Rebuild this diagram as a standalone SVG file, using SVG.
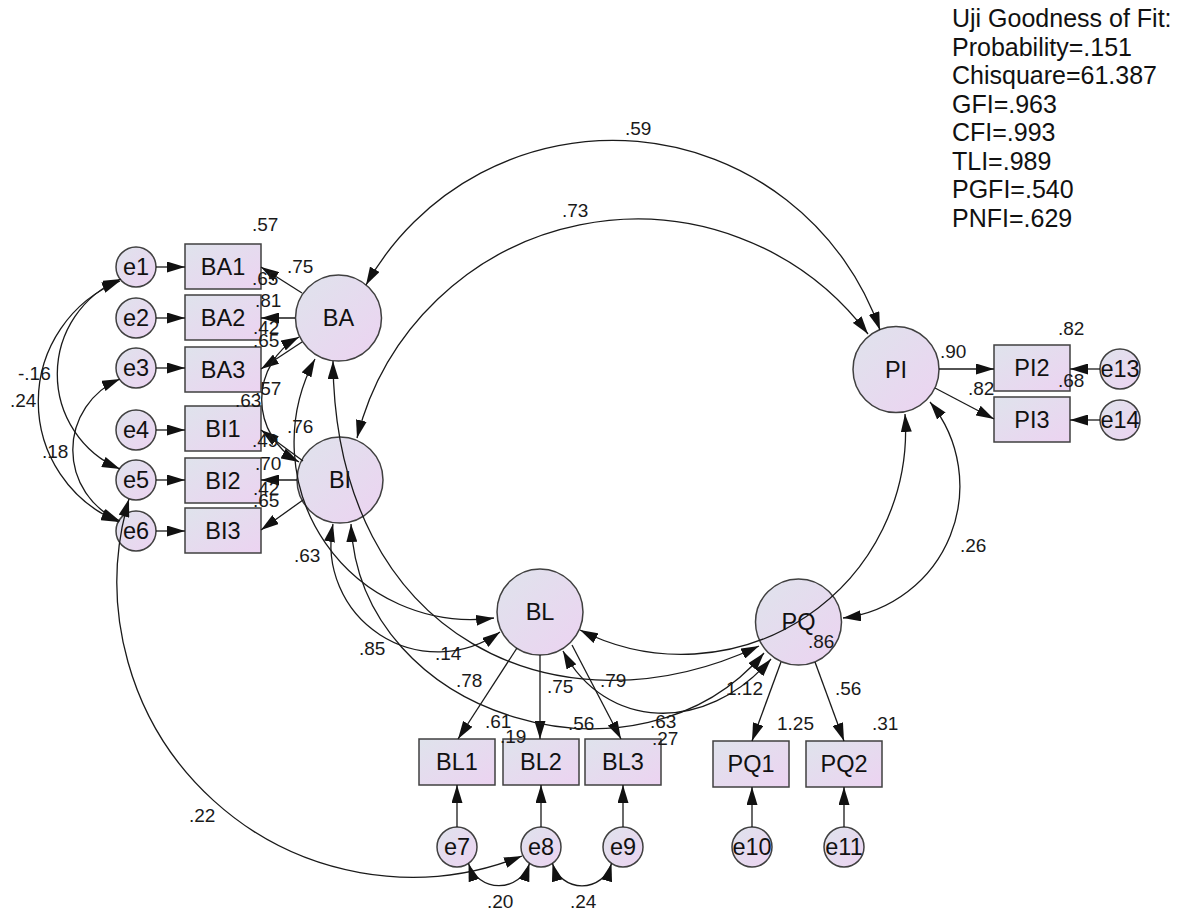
<svg xmlns="http://www.w3.org/2000/svg" width="1187" height="913" viewBox="0 0 1187 913">
<defs>
<linearGradient id="g" x1="0" y1="0" x2="1" y2="1">
<stop offset="0" stop-color="#DFE3EC"/>
<stop offset="1" stop-color="#ECD3F1"/>
</linearGradient>
<marker id="a" viewBox="0 0 18 11" refX="18" refY="5.5" markerWidth="18" markerHeight="11" markerUnits="userSpaceOnUse" orient="auto-start-reverse">
<path d="M0,0 L18,5.5 L0,11 z" fill="#111"/>
</marker>
<style>
.n{fill:url(#g);stroke:#404040;stroke-width:1.5}
.t{font-family:"Liberation Sans",Arial,sans-serif;font-size:23.5px;text-anchor:middle;fill:#111}
.c path{fill:none;stroke:#1a1a1a;stroke-width:1.3}
.s{marker-end:url(#a)}
.d{marker-start:url(#a);marker-end:url(#a)}
.l{font-family:"Liberation Sans",Arial,sans-serif;font-size:19px;fill:#1a1a1a}
.f{font-family:"Liberation Sans",Arial,sans-serif;font-size:25px;fill:#111}
</style>
</defs>
<rect width="1187" height="913" fill="#fff"/>

<g id="e1"><circle class="n" cx="136" cy="267" r="20"/><text class="t" x="136" y="275">e1</text></g>
<g id="e2"><circle class="n" cx="136" cy="318" r="20"/><text class="t" x="136" y="326">e2</text></g>
<g id="e3"><circle class="n" cx="136" cy="368" r="20"/><text class="t" x="136" y="376">e3</text></g>
<g id="e4"><circle class="n" cx="136" cy="430" r="20"/><text class="t" x="136" y="438">e4</text></g>
<g id="e5"><circle class="n" cx="136" cy="480" r="20"/><text class="t" x="136" y="488">e5</text></g>
<g id="e6"><circle class="n" cx="136" cy="531" r="20"/><text class="t" x="136" y="539">e6</text></g>
<g id="e7"><circle class="n" cx="457" cy="847" r="20"/><text class="t" x="457" y="855">e7</text></g>
<g id="e8"><circle class="n" cx="541" cy="847" r="20"/><text class="t" x="541" y="855">e8</text></g>
<g id="e9"><circle class="n" cx="623" cy="847" r="20"/><text class="t" x="623" y="855">e9</text></g>
<g id="e10"><circle class="n" cx="752" cy="847" r="20"/><text class="t" x="752" y="855">e10</text></g>
<g id="e11"><circle class="n" cx="844" cy="847" r="20"/><text class="t" x="844" y="855">e11</text></g>
<g id="e13"><circle class="n" cx="1120" cy="369" r="20"/><text class="t" x="1120" y="377">e13</text></g>
<g id="e14"><circle class="n" cx="1120" cy="420" r="20"/><text class="t" x="1120" y="428">e14</text></g>

<g id="BA1"><rect class="n" x="185" y="244" width="76" height="45"/><text class="t" x="223" y="275">BA1</text></g>
<g id="BA2"><rect class="n" x="185" y="295" width="76" height="45"/><text class="t" x="223" y="326">BA2</text></g>
<g id="BA3"><rect class="n" x="185" y="347" width="76" height="45"/><text class="t" x="223" y="378">BA3</text></g>
<g id="BI1"><rect class="n" x="185" y="406" width="76" height="45"/><text class="t" x="223" y="437">BI1</text></g>
<g id="BI2"><rect class="n" x="185" y="458" width="76" height="45"/><text class="t" x="223" y="489">BI2</text></g>
<g id="BI3"><rect class="n" x="185" y="508" width="76" height="45"/><text class="t" x="223" y="539">BI3</text></g>
<g id="BL1"><rect class="n" x="419" y="739" width="76" height="46"/><text class="t" x="457" y="770">BL1</text></g>
<g id="BL2"><rect class="n" x="503" y="739" width="76" height="46"/><text class="t" x="541" y="770">BL2</text></g>
<g id="BL3"><rect class="n" x="585" y="739" width="76" height="46"/><text class="t" x="623" y="770">BL3</text></g>
<g id="PQ1"><rect class="n" x="713" y="741" width="76" height="46"/><text class="t" x="751" y="772">PQ1</text></g>
<g id="PQ2"><rect class="n" x="806" y="741" width="76" height="46"/><text class="t" x="844" y="772">PQ2</text></g>
<g id="PI2"><rect class="n" x="994" y="345" width="76" height="46"/><text class="t" x="1032" y="376">PI2</text></g>
<g id="PI3"><rect class="n" x="994" y="397" width="76" height="45"/><text class="t" x="1032" y="428">PI3</text></g>

<g id="BA"><circle class="n" cx="338.5" cy="318" r="43"/><text class="t" x="338.5" y="326">BA</text></g>
<g id="BI"><circle class="n" cx="340" cy="480" r="43"/><text class="t" x="340" y="488">BI</text></g>
<g id="BL"><circle class="n" cx="540" cy="612" r="43"/><text class="t" x="540" y="620">BL</text></g>
<g id="PQ"><circle class="n" cx="798.5" cy="622" r="43"/><text class="t" x="798.5" y="630">PQ</text></g>
<g id="PI"><circle class="n" cx="896" cy="369.5" r="43"/><text class="t" x="896" y="377.5">PI</text></g>

<g id="connectors" class="c">
<path class="s" d="M156 267 L185 267"/>
<path class="s" d="M156 318 L185 318"/>
<path class="s" d="M156 368 L185 368"/>
<path class="s" d="M156 430 L185 430"/>
<path class="s" d="M156 480 L185 480"/>
<path class="s" d="M156 531 L185 531"/>
<path class="s" d="M302 293 L261 267"/>
<path class="s" d="M295 318 L261 318"/>
<path class="s" d="M302 342 L261 369"/>
<path class="s" d="M303 461 L261 430"/>
<path class="s" d="M297 480 L261 480"/>
<path class="s" d="M303 500 L261 530"/>
<path class="s" d="M517 648 L458 739"/>
<path class="s" d="M540 655 L540 739"/>
<path class="s" d="M572 645 L621 739"/>
<path class="s" d="M781 662 L752 741"/>
<path class="s" d="M815 662 L844 741"/>
<path class="s" d="M939 369 L994 369"/>
<path class="s" d="M935 388 L994 419"/>
<path class="s" d="M457 827 L457 785"/>
<path class="s" d="M541 827 L541 785"/>
<path class="s" d="M623 827 L623 785"/>
<path class="s" d="M752 827 L752 787"/>
<path class="s" d="M844 827 L844 787"/>
<path class="s" d="M1100 369 L1070 369"/>
<path class="s" d="M1100 420 L1070 420"/>

<path class="d" d="M366 285 A283 283 0 0 1 880 330"/>
<path class="d" d="M357 438 A289 289 0 0 1 868 334"/>
<path class="d" d="M930 402 A133 133 0 0 1 843 618"/>
<path class="d" d="M580 630 A224 224 0 0 0 905 414"/>
<path class="d" d="M299 337 A71 71 0 0 0 299 462"/>
<path class="d" d="M315 359 A177 177 0 0 0 494 618"/>
<path class="d" d="M333 524 A107 107 0 0 0 500 632"/>
<path class="d" d="M351 524 C360 720 640 800 764 653"/>
<path class="d" d="M333 361 C335 640 560 740 759 646"/>
<path class="d" d="M563 651 C605 730 705 735 771 659"/>
<path class="d" d="M121 279 A103 103 0 0 0 120 469"/>
<path class="d" d="M120 281 A130 130 0 0 0 119 522"/>
<path class="d" d="M120 379 A77 77 0 0 0 120 521"/>
<path class="d" d="M129 499 A295 295 0 0 0 522 856"/>
<path class="d" d="M468.5 863.4 A32 32 0 0 0 529.5 863.4"/>
<path class="d" d="M552.5 863.4 A30.6 30.6 0 0 0 611.5 863.4"/>
</g>

<g id="labels">
<text class="l" x="252" y="231">.57</text>
<text class="l" x="287" y="273">.75</text>
<text class="l" x="252" y="285">.65</text>
<text class="l" x="255" y="307">.81</text>
<text class="l" x="253" y="334">.42</text>
<text class="l" x="253" y="347">.65</text>
<text class="l" x="255" y="395">.57</text>
<text class="l" x="235" y="407">.63</text>
<text class="l" x="287" y="433">.76</text>
<text class="l" x="252" y="447">.49</text>
<text class="l" x="255" y="470">.70</text>
<text class="l" x="253" y="495">.42</text>
<text class="l" x="253" y="507">.65</text>
<text class="l" x="18" y="380">-.16</text>
<text class="l" x="10" y="407">.24</text>
<text class="l" x="42" y="458">.18</text>
<text class="l" x="294" y="562">.63</text>
<text class="l" x="359" y="655">.85</text>
<text class="l" x="435" y="660">.14</text>
<text class="l" x="456" y="687">.78</text>
<text class="l" x="547" y="693">.75</text>
<text class="l" x="600" y="687">.79</text>
<text class="l" x="726" y="695">1.12</text>
<text class="l" x="485" y="728">.61</text>
<text class="l" x="500" y="743">.19</text>
<text class="l" x="568" y="730">.56</text>
<text class="l" x="650" y="728">.63</text>
<text class="l" x="652" y="745">.27</text>
<text class="l" x="777" y="730">1.25</text>
<text class="l" x="835" y="695">.56</text>
<text class="l" x="872" y="730">.31</text>
<text class="l" x="808" y="648">.86</text>
<text class="l" x="189" y="822">.22</text>
<text class="l" x="487" y="908">.20</text>
<text class="l" x="570" y="908">.24</text>
<text class="l" x="940" y="358">.90</text>
<text class="l" x="1058" y="335">.82</text>
<text class="l" x="968" y="395">.82</text>
<text class="l" x="1058" y="387">.68</text>
<text class="l" x="960" y="552">.26</text>
<text class="l" x="625" y="135">.59</text>
<text class="l" x="562" y="217">.73</text>
</g>

<g id="fit">
<text class="f" x="952" y="27">Uji Goodness of Fit:</text>
<text class="f" x="952" y="55.6">Probability=.151</text>
<text class="f" x="952" y="84.1">Chisquare=61.387</text>
<text class="f" x="952" y="112.7">GFI=.963</text>
<text class="f" x="952" y="141.3">CFI=.993</text>
<text class="f" x="952" y="169.9">TLI=.989</text>
<text class="f" x="952" y="198.4">PGFI=.540</text>
<text class="f" x="952" y="227">PNFI=.629</text>
</g>
</svg>
